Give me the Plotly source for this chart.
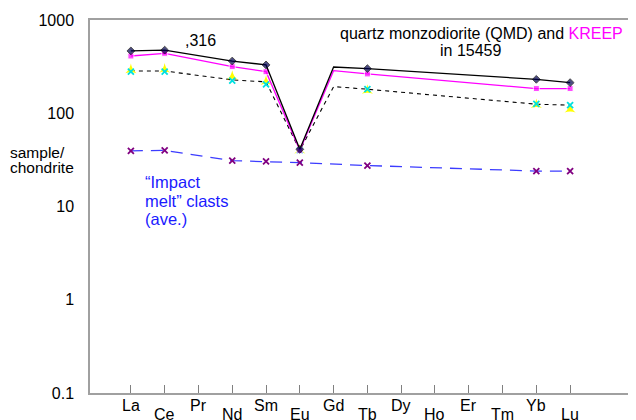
import plotly.graph_objects as go

elements = ["La", "Ce", "Pr", "Nd", "Sm", "Eu", "Gd", "Tb", "Dy", "Ho", "Er", "Tm", "Yb", "Lu"]
xpos = list(range(1, 15))

# QMD (black solid, navy diamonds)
qmd = [466, 475, None, 363, 330, 41, 313, 301, None, None, None, None, 231, 213]
# KREEP (magenta squares)
kreep = [411, 439, None, 316, 279, 40, 286, 264, None, None, None, None, 184, 184]
# dashed black reference line
qmd_b = [284, 284, None, 228, 217, 40, 193, 181, None, None, None, None, 125, 122]
# yellow triangles
tri_vals = [291, 295, None, 247, 218, 40, None, 175, None, None, None, None, 123, 110]
# cyan crosses
cyan_vals = [279, 279, None, 224, 204, 40, None, 181, None, None, None, None, 126, 122]
# impact melt clasts (blue dashed, purple x)
clasts = [39.5, 40, None, 31, 30.5, 29.5, None, 27.5, None, None, None, None, 24, 24]

y_ticks = [0.1, 1, 10, 100, 1000]
y_ticktext = ["0.1", "1", "10", "100", "1000"]

FONT = "Liberation Sans, Arial, sans-serif"

# the page body has an 8px margin; the figure is sized/offset to compensate
OFF = 8
W, H = 636 - OFF, 420 - OFF
ML, MT = 90 - OFF, 20 - OFF
PB = 393 - OFF  # plot bottom in figure px
MB = H - PB
PH = PB - MT
PW = W - ML


def msize(base):
    return [0 if e == "Gd" else base for e in elements]


fig = go.Figure()

fig.add_trace(go.Scatter(
    x=xpos, y=qmd_b, mode="lines", connectgaps=True,
    line=dict(color="black", width=1.1, dash="4px,4px"), showlegend=False))
fig.add_trace(go.Scatter(
    x=xpos, y=clasts, mode="lines+markers", connectgaps=True,
    line=dict(color="#3c3cff", width=1.3, dash="12px,8px"),
    marker=dict(symbol="x-thin", size=6, line=dict(color="#800080", width=1.8)),
    showlegend=False))
fig.add_trace(go.Scatter(
    x=xpos, y=tri_vals, mode="markers",
    marker=dict(symbol="star-triangle-up", size=8, color="#ffff00"),
    showlegend=False))
fig.add_trace(go.Scatter(
    x=xpos, y=cyan_vals, mode="markers",
    marker=dict(symbol="x-thin", size=6, line=dict(color="#00e0e0", width=1.8)),
    showlegend=False))
fig.add_trace(go.Scatter(
    x=xpos, y=kreep, mode="lines+markers", connectgaps=True,
    line=dict(color="#ff00ff", width=1.3),
    marker=dict(symbol="square", size=msize(6), color="#ff00ff"),
    showlegend=False))
fig.add_trace(go.Scatter(
    x=xpos, y=qmd, mode="lines+markers", connectgaps=True,
    line=dict(color="black", width=1.3),
    marker=dict(symbol="diamond", size=msize(6), color="#000050"),
    showlegend=False))


def to_paper(px, py):
    """page pixel -> paper coords"""
    fx, fy = px - OFF, py - OFF
    return (fx - ML) / PW, (PB - fy) / PH


annotations = []
for i, (xp, el) in enumerate(zip(xpos, elements)):
    annotations.append(dict(
        x=xp, y=0, xref="x", yref="paper", text=el, showarrow=False,
        yanchor="middle", xanchor="center",
        yshift=-12 if i % 2 == 0 else -21,
        font=dict(size=16, color="black", family=FONT)))

texts = [
    (",316", 200, 40, "black", 16, "center"),
    ("quartz monzodiorite (QMD) and <span style='color:#ff00ff'>KREEP</span>", 624, 33, "black", 16, "right"),
    ("in 15459", 470, 50, "black", 16, "center"),
    ("“Impact", 144, 182, "#1a1aff", 16.5, "left"),
    ("melt” clasts", 144, 201, "#1a1aff", 16.5, "left"),
    ("(ave.)", 144, 219, "#1a1aff", 16.5, "left"),
    ("sample/", 9, 152, "black", 15.5, "left"),
    ("chondrite", 9, 167, "black", 15.5, "left"),
]
for txt, px, py, color, size, anchor in texts:
    xx, yy = to_paper(px, py)
    annotations.append(dict(x=xx, y=yy, xref="paper", yref="paper", text=txt,
                            showarrow=False, xanchor=anchor, yanchor="middle",
                            borderpad=0,
                            font=dict(size=size, color=color, family=FONT)))

fig.update_layout(
    width=W, height=H,
    margin=dict(l=ML, r=0, t=MT, b=MB),
    paper_bgcolor="white", plot_bgcolor="white",
    font=dict(family=FONT, size=16, color="black"),
    annotations=annotations,
    xaxis=dict(range=[-0.21, 15.95], tickvals=xpos, showticklabels=False,
               ticks="inside", ticklen=8, tickwidth=1, tickcolor="#808080",
               showgrid=False, zeroline=False, showline=True, linecolor="#a0a0a0",
               linewidth=1.5, mirror=True, automargin=False),
    yaxis=dict(type="log", range=[-1, 3], tickvals=y_ticks, ticktext=y_ticktext,
               ticks="", showgrid=False, zeroline=False, showline=True,
               linecolor="#a0a0a0", linewidth=1.5, ticklabelstandoff=11,
               tickfont=dict(size=16, family=FONT), automargin=False),
)

fig.write_html("out.html")
